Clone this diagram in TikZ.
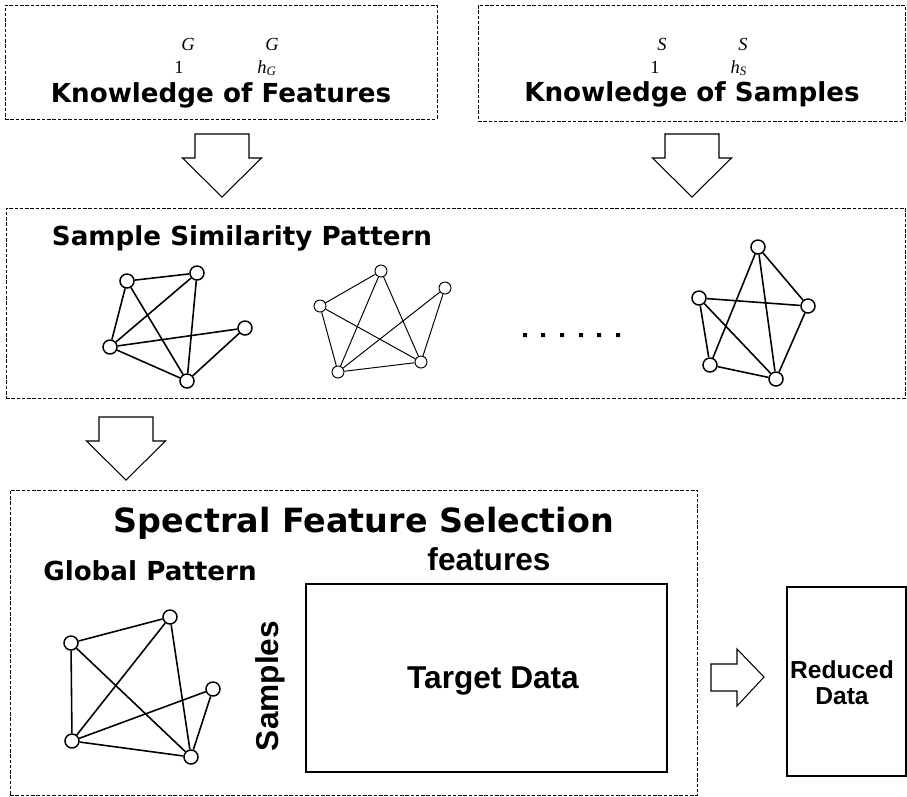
\documentclass[tikz,border=0pt]{standalone}
\usepackage{fontspec}
\setmainfont{Liberation Serif}
\newfontfamily\verdanafont{DejaVu Sans}
\newfontfamily\arialfont{Liberation Sans}
\begin{document}
\begin{tikzpicture}[x=0.02cm,y=-0.02cm]
	% Styles
	\tikzstyle{cadre}=[draw,dash pattern=on 2pt off 1pt,line width=0.5pt,inner sep=0pt]
	\tikzstyle{boite}=[draw,line width=0.7pt,inner sep=0pt]
	\tikzstyle{bloc}=[draw,line width=0.6pt,line join=miter]
	\tikzstyle{sommet}=[circle,draw,line width=0.85pt,minimum size=0.28cm,inner sep=0pt]
	\tikzstyle{petitsommet}=[circle,draw,line width=0.55pt,minimum size=0.24cm,inner sep=0pt]
	\tikzstyle{arete}=[line width=0.9pt]
	\tikzstyle{finearete}=[line width=0.55pt]
	\tikzstyle{titre}=[inner sep=0pt,anchor=base,font=\verdanafont\bfseries\fontsize{14.9}{16}\selectfont]
	\tikzstyle{grandtitre}=[inner sep=0pt,anchor=base,font=\verdanafont\bfseries\fontsize{19}{22}\selectfont]
	\tikzstyle{etiquette}=[inner sep=0pt,anchor=base,font=\arialfont\bfseries\fontsize{18}{20}\selectfont]
	\tikzstyle{symbole}=[inner sep=0pt,anchor=base,font=\fontsize{10.5}{12}\selectfont]
	% Fleche (pointe vers le bas)
	\def\FlecheBas#1{\draw[bloc,shift={#1}] (-27,0) -- (27,0) -- (27,24) -- (39.5,24) -- (0,63) -- (-39.5,24) -- (-27,24) -- cycle;}
	\useasboundingbox (0,0) rectangle (907,796);
	% Cadres
	\node[cadre,minimum width=8.64cm,minimum height=2.28cm] (Kf) at (221,62) {};
	\node[cadre,minimum width=8.54cm,minimum height=2.32cm] (Ks) at (691.5,63) {};
	\node[cadre,minimum width=17.99cm,minimum height=3.8cm] (Motif) at (455.75,303) {};
	\node[cadre,minimum width=13.76cm,minimum height=6.1cm] (Selection) at (354,642.5) {};
	\node[boite,minimum width=7.22cm,minimum height=3.76cm] (Cible) at (486.5,678) {};
	\node[boite,minimum width=2.38cm,minimum height=3.78cm] (Reduit) at (846.5,681.5) {};
	% Textes
	\node[symbole] (Ga) at (188,50) {\textit{G}};
	\node[symbole] (Gb) at (272,50) {\textit{G}};
	\node[symbole] (Gc) at (179,73) {1};
	\node[symbole] (Gd) at (267,73) {\textit{h}\textsubscript{\textit{G}}};
	\node[symbole] (Sa) at (662,50) {\textit{S}};
	\node[symbole] (Sb) at (743,50) {\textit{S}};
	\node[symbole] (Sc) at (655,73) {1};
	\node[symbole] (Sd) at (739,73) {\textit{h}\textsubscript{\textit{S}}};
	\node[titre] (Tf) at (221,102) {Knowledge of Features};
	\node[titre] (Ts) at (692,101) {Knowledge of Samples};
	\node[titre] (Tm) at (242,245) {Sample Similarity Pattern};
	\node[grandtitre] (Tsel) at (364,532) {Spectral Feature Selection};
	\node[titre] (Tg) at (150,580) {Global Pattern};
	\node[etiquette] (Tfeat) at (489,570) {features};
	\node[etiquette] (Tcible) at (493,688) {Target Data};
	\node[etiquette,anchor=center,rotate=90] (Tsamp) at (270,686) {Samples};
	\node[inner sep=0pt,align=center,font=\arialfont\bfseries\fontsize{14}{14.6}\selectfont] (Tred) at (842,683) {Reduced\\Data};
	% Fleches
	\FlecheBas{(222,134)}
	\FlecheBas{(692,134)}
	\FlecheBas{(126,417)}
	\draw[bloc] (711,664) -- (737,664) -- (737,649) -- (764,677) -- (737,706) -- (737,691) -- (711,691) -- cycle;
	% Points de suspension
	\fill (523,333) rectangle +(4,4) (541,333) rectangle +(4,4) (560,333) rectangle +(4,4)
		(579,333) rectangle +(4,4) (597,333) rectangle +(4,4) (616,333) rectangle +(4,4);
	% Graphe 1
	\node[sommet] (Aa) at (127,281) {};
	\node[sommet] (Ab) at (197,273) {};
	\node[sommet] (Ac) at (245,328) {};
	\node[sommet] (Ad) at (110,347) {};
	\node[sommet] (Ae) at (187,381) {};
	\draw[arete] (Aa)--(Ab);
	\draw[arete] (Aa)--(Ad);
	\draw[arete] (Aa)--(Ae);
	\draw[arete] (Ab)--(Ad);
	\draw[arete] (Ab)--(Ae);
	\draw[arete] (Ac)--(Ad);
	\draw[arete] (Ac)--(Ae);
	\draw[arete] (Ad)--(Ae);
	% Graphe 2
	\node[petitsommet] (Ba) at (381,271) {};
	\node[petitsommet] (Bb) at (445,288) {};
	\node[petitsommet] (Bc) at (320,306) {};
	\node[petitsommet] (Bd) at (421,362) {};
	\node[petitsommet] (Be) at (338,372) {};
	\draw[finearete] (Bc)--(Ba);
	\draw[finearete] (Bc)--(Be);
	\draw[finearete] (Bc)--(Bd);
	\draw[finearete] (Ba)--(Be);
	\draw[finearete] (Ba)--(Bd);
	\draw[finearete] (Bb)--(Be);
	\draw[finearete] (Bb)--(Bd);
	\draw[finearete] (Be)--(Bd);
	% Graphe 3
	\node[sommet] (Ca) at (758,247) {};
	\node[sommet] (Cb) at (699,298) {};
	\node[sommet] (Cc) at (808,306) {};
	\node[sommet] (Cd) at (710,365) {};
	\node[sommet] (Ce) at (776,379) {};
	\draw[arete] (Ca)--(Cd);
	\draw[arete] (Ca)--(Ce);
	\draw[arete] (Ca)--(Cc);
	\draw[arete] (Cb)--(Cc);
	\draw[arete] (Cb)--(Cd);
	\draw[arete] (Cb)--(Ce);
	\draw[arete] (Cc)--(Ce);
	\draw[arete] (Cd)--(Ce);
	% Graphe global
	\node[sommet] (Da) at (71,643) {};
	\node[sommet] (Db) at (170,617) {};
	\node[sommet] (Dc) at (213,689) {};
	\node[sommet] (Dd) at (72,741) {};
	\node[sommet] (De) at (191,757) {};
	\draw[arete] (Da)--(Db);
	\draw[arete] (Da)--(Dd);
	\draw[arete] (Da)--(De);
	\draw[arete] (Db)--(Dd);
	\draw[arete] (Db)--(De);
	\draw[arete] (Dc)--(Dd);
	\draw[arete] (Dc)--(De);
	\draw[arete] (Dd)--(De);
\end{tikzpicture}
\end{document}
